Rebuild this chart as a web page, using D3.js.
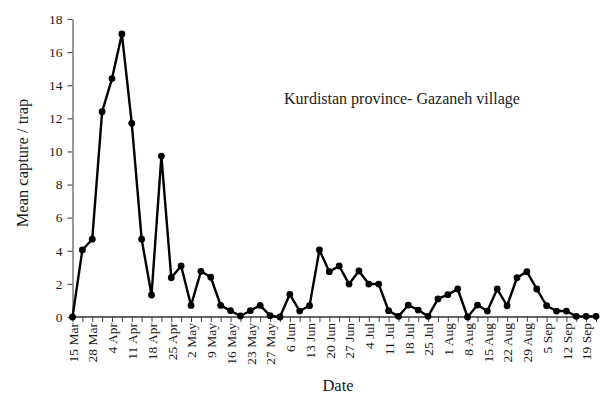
<!DOCTYPE html>
<html>
<head>
<meta charset="utf-8">
<script src="https://cdn.jsdelivr.net/npm/d3@7"></script>
<style>
  html, body { margin: 0; padding: 0; background: #fff; }
  svg { display: block; }
  svg text { font-family: 'Liberation Serif', 'Times New Roman', serif; }
</style>
</head>
<body>
<svg id="chart" width="603" height="401"></svg>
<script>
const categories = ["15 Mar","21 Mar","28 Mar","1 Apr","4 Apr","8 Apr","11 Apr","15 Apr","18 Apr","22 Apr",
  "25 Apr","29 Apr","2 May","6 May","9 May","13 May","16 May","20 May","23 May","25 May",
  "27 May","1 Jun","6 Jun","10 Jun","13 Jun","17 Jun","20 Jun","24 Jun","27 Jun","1 Jul",
  "4 Jul","8 Jul","11 Jul","15 Jul","18 Jul","22 Jul","25 Jul","29 Jul","1 Aug","5 Aug",
  "8 Aug","12 Aug","15 Aug","19 Aug","22 Aug","26 Aug","29 Aug","2 Sep","5 Sep","9 Sep",
  "12 Sep","16 Sep","19 Sep","23 Sep"];
const meanCapture = [0, 4.05, 4.7, 12.4, 14.4, 17.1, 11.7, 4.7, 1.33, 9.72,
  2.37, 3.08, 0.7, 2.76, 2.4, 0.7, 0.38, 0.06, 0.38, 0.7,
  0.08, 0, 1.37, 0.36, 0.68, 4.05, 2.74, 3.08, 1.99, 2.78,
  1.99, 1.99, 0.38, 0.04, 0.72, 0.42, 0.04, 1.09, 1.35, 1.69,
  0, 0.72, 0.36, 1.69, 0.68, 2.37, 2.74, 1.69, 0.68, 0.36,
  0.36, 0.04, 0.04, 0.04];
const tickLabels = ["15 Mar","28 Mar","4 Apr","11 Apr","18 Apr","25 Apr","2 May","9 May","16 May","23 May",
  "27 May","6 Jun","13 Jun","20 Jun","27 Jun","4 Jul","11 Jul","18 Jul","25 Jul","1 Aug",
  "8 Aug","15 Aug","22 Aug","29 Aug","5 Sep","12 Sep","19 Sep"];
const yTicks = [0, 2, 4, 6, 8, 10, 12, 14, 16, 18];
const titleText = "Kurdistan province- Gazaneh village";
const xTitle = "Date";
const yTitle = "Mean capture / trap";

const svg = d3.select("#chart");
const x = d3.scalePoint().domain(categories).range([72.5, 596]);
const y = d3.scaleLinear().domain([0, 18]).range([317, 19]);
const ink = "#1a1a1a";

// y axis
const yAxis = svg.append("g").attr("transform", "translate(72.5,0)")
  .call(d3.axisLeft(y).tickValues(yTicks).tickSize(5).tickSizeOuter(0).tickPadding(5));
yAxis.attr("font-family", null);
yAxis.select(".domain").attr("stroke", "#555").attr("stroke-width", 1.2);
yAxis.selectAll(".tick line").attr("stroke", "#555").attr("stroke-width", 1.2);
yAxis.selectAll("text").attr("font-size", 13.5).attr("fill", ink);

// x axis
const labelSet = new Set(tickLabels);
const xAxis = svg.append("g").attr("transform", "translate(0,317)")
  .call(d3.axisBottom(x).tickValues(categories).tickSize(5).tickSizeOuter(0)
    .tickFormat(d => labelSet.has(d) ? d : ""));
xAxis.attr("font-family", null);
xAxis.select(".domain").remove();
xAxis.append("line").attr("x1", 72.5).attr("x2", 599).attr("y1", 0).attr("y2", 0)
  .attr("stroke", "#333").attr("stroke-width", 1.5);
xAxis.selectAll(".tick line").attr("stroke", "#444").attr("stroke-width", 1);
xAxis.selectAll("text")
  .attr("font-size", 13.5).attr("fill", ink)
  .attr("text-anchor", "end")
  .attr("transform", "rotate(-90)")
  .attr("x", -6).attr("y", 0).attr("dy", "0.35em");

// line
const line = d3.line().x((d, i) => x(categories[i])).y(d => y(d));
svg.append("path").datum(meanCapture)
  .attr("fill", "none").attr("stroke", "#000").attr("stroke-width", 2.4)
  .attr("stroke-linejoin", "round").attr("d", line);
svg.append("g").selectAll("circle").data(meanCapture).join("circle")
  .attr("cx", (d, i) => x(categories[i])).attr("cy", d => y(d)).attr("r", 3.4)
  .attr("fill", "#000");

// titles
svg.append("text").attr("x", 284).attr("y", 104).attr("font-size", 16).attr("fill", ink)
  .text(titleText);
svg.append("text").attr("x", 338).attr("y", 391).attr("text-anchor", "middle")
  .attr("font-size", 16.5).attr("fill", ink).text(xTitle);
svg.append("text").attr("transform", "translate(28,163) rotate(-90)")
  .attr("text-anchor", "middle").attr("font-size", 16.5).attr("fill", ink).text(yTitle);
</script>
</body>
</html>
